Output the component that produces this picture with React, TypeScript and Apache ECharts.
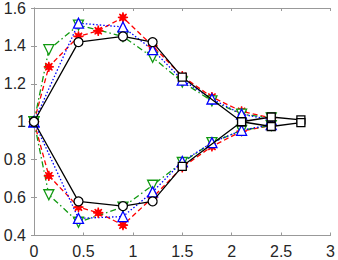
import React, { useEffect, useRef } from "react";
import * as echarts from "echarts";

const xTicks = ["0", "0.5", "1", "1.5", "2", "2.5", "3"];
const yTicks = ["0.4", "0.6", "0.8", "1", "1.2", "1.4", "1.6"];

const blackX = [0, 0.45, 0.9, 1.2, 1.5, 2.1, 2.4, 2.7];
const blackUpper = [1, 1.42, 1.45, 1.42, 1.235, 1.0, 1.025, 1.01];
const blackLower = [1, 0.58, 0.555, 0.58, 0.765, 1.0, 0.975, 0.995];
const blackSymbols = ["circle", "circle", "circle", "circle", "rect", "rect", "rect", "rect"];

const redX = [0, 0.15, 0.45, 0.65, 0.9, 1.2, 1.5, 1.8, 2.1, 2.4];
const redUpper = [1, 1.29, 1.45, 1.48, 1.55, 1.4, 1.24, 1.13, 1.055, 1.02];
const redLower = [1, 0.715, 0.55, 0.52, 0.455, 0.6, 0.76, 0.87, 0.95, 0.98];

const greenX = [0, 0.15, 0.45, 0.9, 1.2, 1.5, 1.8, 2.1, 2.4];
const greenUpper = [1, 1.38, 1.51, 1.45, 1.34, 1.21, 1.11, 1.04, 1.02];
const greenLower = [1, 0.615, 0.47, 0.55, 0.665, 0.785, 0.89, 0.955, 0.98];

const blueX = [0, 0.45, 0.9, 1.2, 1.5, 1.8, 2.1, 2.4];
const blueUpper = [1, 1.52, 1.5, 1.38, 1.22, 1.12, 1.04, 1.01];
const blueLower = [1, 0.49, 0.5, 0.63, 0.79, 0.89, 0.955, 0.985];

const STAR =
  "path://M0,-10L1.34,-3.23L7.07,-7.07L3.23,-1.34L10,0L3.23,1.34L7.07,7.07L1.34,3.23L0,10L-1.34,3.23L-7.07,7.07L-3.23,1.34L-10,0L-3.23,-1.34L-7.07,-7.07L-1.34,-3.23Z";

const zip = (xs: number[], ys: number[]) => xs.map((x, i) => [x, ys[i]]);

export default function App() {
  const ref = useRef<HTMLDivElement>(null);
  useEffect(() => {
    const chart = echarts.init(ref.current!, null, { renderer: "svg" });
    const font = { fontFamily: "Liberation Sans", fontSize: 16, color: "#262626" };
    const lineSeries = (
      name: string,
      data: number[][],
      color: string,
      type: any,
      symbol: string,
      size: number,
      rotate = 0,
      fill = "none"
    ) => ({
      name,
      type: "line",
      data,
      symbol,
      symbolSize: size,
      symbolRotate: rotate,
      showAllSymbol: true,
      lineStyle: { color, width: 1.3, type },
      itemStyle: { color: fill, borderColor: color, borderWidth: 1.3 },
      z: 2,
    });
    const red = "#ff0000";
    const green = "#119911";
    const blue = "#0000ff";
    const series: any[] = [
      lineSeries("ru", zip(redX, redUpper), red, [5, 3], STAR, 10, 0, red),
      lineSeries("rl", zip(redX, redLower), red, [5, 3], STAR, 10, 0, red),
      lineSeries("gu", zip(greenX, greenUpper), green, [6, 3, 1.5, 3], "triangle", 10, 180, "#fff"),
      lineSeries("gl", zip(greenX, greenLower), green, [6, 3, 1.5, 3], "triangle", 10, 180, "#fff"),
      lineSeries("bu", zip(blueX, blueUpper), blue, [1.5, 2], "triangle", 10, 0, "#fff"),
      lineSeries("bl", zip(blueX, blueLower), blue, [1.5, 2], "triangle", 10, 0, "#fff"),
    ];
    const blackData = (ys: number[]) =>
      blackX.map((x, i) => ({
        value: [x, ys[i]],
        symbol: blackSymbols[i],
        symbolSize: blackSymbols[i] === "rect" ? 8 : 9,
      }));
    for (const [n, ys] of [["ku", blackUpper], ["kl", blackLower]] as [string, number[]][]) {
      series.push({
        name: n,
        type: "line",
        data: blackData(ys),
        showAllSymbol: true,
        lineStyle: { color: "#000", width: 1.3 },
        itemStyle: { color: "#fff", borderColor: "#000", borderWidth: 1.3 },
        z: 3,
      });
    }
    const axisLine = { show: true, lineStyle: { color: "#999", width: 1 } };
    const tick = { show: true, inside: true, length: 3, lineStyle: { color: "#999" } };
    chart.setOption({
      animation: false,
      grid: { left: 34, right: 6, top: 7.5, bottom: 24.5, containLabel: false },
      xAxis: [
        {
          type: "value",
          min: 0,
          max: 3,
          interval: 0.5,
          axisLine,
          axisTick: tick,
          splitLine: { show: false },
          axisLabel: { ...font, margin: 8, formatter: (v: number) => xTicks[Math.round(v * 2)] },
        },
        {
          type: "value",
          position: "top",
          min: 0,
          max: 3,
          interval: 0.5,
          axisLine,
          axisTick: tick,
          splitLine: { show: false },
          axisLabel: { show: false },
        },
      ],
      yAxis: [
        {
          type: "value",
          min: 0.4,
          max: 1.6,
          interval: 0.2,
          axisLine,
          axisTick: tick,
          splitLine: { show: false },
          axisLabel: {
            ...font,
            margin: 8,
            formatter: (v: number) => yTicks[Math.round((v - 0.4) / 0.2)],
          },
        },
        {
          type: "value",
          position: "right",
          min: 0.4,
          max: 1.6,
          interval: 0.2,
          axisLine,
          axisTick: tick,
          splitLine: { show: false },
          axisLabel: { show: false },
        },
      ],
      series,
    });
    return () => chart.dispose();
  }, []);
  return (
    <div
      ref={ref}
      style={{ position: "absolute", left: 0, top: 0, width: 338, height: 260 }}
    />
  );
}
